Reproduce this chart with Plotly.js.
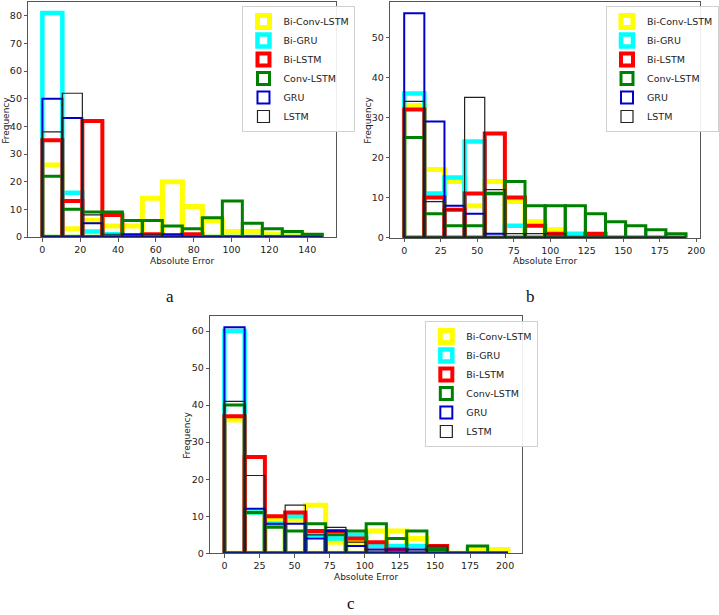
<!DOCTYPE html>
<html>
<head>
<meta charset="utf-8">
<script src="https://cdn.plot.ly/plotly-3.0.1.min.js"></script>
<style>
html, body { margin: 0; padding: 0; background: #fff; }
#chart { width: 719px; height: 615px; }
</style>
</head>
<body>
<div id="chart"></div>
<script>
// model names, in legend order
const models = ['Bi-Conv-LSTM', 'Bi-GRU', 'Bi-LSTM', 'Conv-LSTM', 'GRU', 'LSTM'];

// histogram range of the absolute error in each panel, 14 bins each
const binCount = 14;
const errorRangeA = [0, 148];
const errorRangeB = [0, 193];
const errorRangeC = [0, 202];

// counts per bin, one row per model (same order as models)
const countsA = [
    [26, 3, 6, 4, 4, 14, 20, 11, 6, 2, 2, 1, 1, 0],
    [81, 16, 2, 1, 0, 0, 0, 0, 0, 0, 0, 0, 0, 0],
    [35, 13, 42, 8, 0, 1, 0, 1, 0, 0, 0, 0, 0, 0],
    [22, 10, 9, 9, 6, 6, 4, 3, 7, 13, 5, 3, 2, 1],
    [50, 43, 5, 0, 1, 0, 1, 0, 0, 0, 0, 0, 0, 0],
    [38, 52, 8, 1, 0, 1, 0, 0, 0, 0, 0, 0, 0, 0],
];
const countsB = [
    [33, 17, 14, 8, 14, 9, 4, 2, 0, 0, 0, 0, 0, 0],
    [36, 11, 15, 24, 11, 3, 0, 0, 1, 0, 0, 0, 0, 0],
    [32, 10, 7, 11, 26, 10, 3, 1, 0, 1, 0, 0, 0, 0],
    [25, 6, 3, 3, 11, 14, 8, 8, 8, 6, 4, 3, 2, 1],
    [56, 29, 8, 6, 1, 0, 0, 0, 0, 0, 0, 0, 0, 0],
    [34, 9, 7, 35, 12, 1, 1, 1, 0, 0, 0, 0, 0, 0],
];
const countsC = [
    [36, 11, 9, 9, 13, 3, 3, 6, 6, 4, 1, 0, 1, 1],
    [60, 11, 8, 10, 5, 4, 5, 2, 2, 2, 0, 0, 0, 0],
    [37, 26, 10, 11, 6, 6, 4, 3, 1, 0, 2, 0, 0, 0],
    [40, 11, 7, 6, 8, 5, 6, 8, 4, 6, 1, 0, 2, 0],
    [61, 12, 8, 8, 4, 6, 2, 1, 1, 1, 0, 0, 0, 0],
    [41, 21, 8, 13, 5, 7, 3, 1, 0, 1, 2, 0, 0, 0],
];

const edgeColors = ['#ffff00', '#00ffff', '#ff0000', '#008000', '#0000cc', '#222222'];
const edgeWidths = [5, 4.5, 4, 3, 2, 1.2];

const tickFont = { family: 'DejaVu Sans', size: 9.5, color: '#222' };
const labelFont = { family: 'DejaVu Sans', size: 9, color: '#222' };
const letterFont = { family: 'Liberation Serif', size: 17, color: '#111' };

function panelTraces(counts, errorRange, suffix) {
    const binWidth = (errorRange[1] - errorRange[0]) / binCount;
    const centers = [];
    for (let i = 0; i < binCount; i++) {
        centers.push(errorRange[0] + (i + 0.5) * binWidth);
    }
    return models.map((name, m) => ({
        type: 'bar',
        name: name,
        x: centers,
        y: counts[m],
        width: binWidth,
        xaxis: 'x' + suffix,
        yaxis: 'y' + suffix,
        legend: 'legend' + suffix,
        marker: {
            color: 'rgba(0,0,0,0)',
            line: { color: edgeColors[m], width: edgeWidths[m] },
        },
        hoverinfo: 'skip',
    }));
}

function axis(domain, range, dtick, anchor) {
    return {
        domain: domain,
        range: range,
        anchor: anchor,
        dtick: dtick,
        tick0: 0,
        showgrid: false,
        zeroline: false,
        showline: true,
        mirror: true,
        linecolor: '#555',
        linewidth: 1,
        ticks: 'outside',
        ticklen: 3.5,
        tickcolor: '#555',
        tickfont: tickFont,
    };
}

function legendBox(x, y) {
    return {
        x: x, y: y,
        xanchor: 'left', yanchor: 'top',
        bgcolor: 'rgba(255,255,255,0.9)',
        bordercolor: '#d0d0d0',
        borderwidth: 1,
        font: { family: 'DejaVu Sans', size: 9.5, color: '#222' },
        tracegroupgap: 0,
        itemwidth: 30,
    };
}

const W = 719, H = 615;
const px = v => v / W;
const py = v => 1 - v / H;

function paperText(text, x, y, font, angle) {
    return {
        text: text, x: px(x), y: py(y), xref: 'paper', yref: 'paper',
        xanchor: 'center', yanchor: 'middle',
        showarrow: false, font: font, textangle: angle || 0,
    };
}

const data = []
    .concat(panelTraces(countsA, errorRangeA, ''))
    .concat(panelTraces(countsB, errorRangeB, '2'))
    .concat(panelTraces(countsC, errorRangeC, '3'));

const layout = {
    width: W,
    height: H,
    margin: { l: 0, r: 0, t: 0, b: 0 },
    paper_bgcolor: '#fff',
    plot_bgcolor: '#fff',
    barmode: 'overlay',
    showlegend: true,
    xaxis: axis([px(29), px(344)], [-7.4, 155.4], 20, 'y'),
    yaxis: axis([py(237), py(2)], [0, 85], 10, 'x'),
    xaxis2: axis([px(399), px(716)], [-9.65, 202.6], 25, 'y2'),
    yaxis2: axis([py(237.7), py(2)], [0, 58.8], 10, 'x2'),
    xaxis3: axis([px(215), px(534)], [-10.1, 212.1], 25, 'y3'),
    yaxis3: axis([py(553.3), py(316)], [0, 64.05], 10, 'x3'),
    legend: legendBox(px(248), py(6)),
    legend2: legendBox(px(620), py(6)),
    legend3: legendBox(px(435), py(321)),
    annotations: [
        paperText('Absolute Error', 186, 261, labelFont),
        paperText('Absolute Error', 557, 261, labelFont),
        paperText('Absolute Error', 374, 577, labelFont),
        paperText('Frequency', 6, 120, labelFont, -90),
        paperText('Frequency', 376, 120, labelFont, -90),
        paperText('Frequency', 191, 435, labelFont, -90),
        paperText('a', 174, 296, letterFont),
        paperText('b', 543, 296, letterFont),
        paperText('c', 359, 603, letterFont),
    ],
};

Plotly.newPlot('chart', data, layout, { staticPlot: true, displayModeBar: false });
</script>
</body>
</html>
